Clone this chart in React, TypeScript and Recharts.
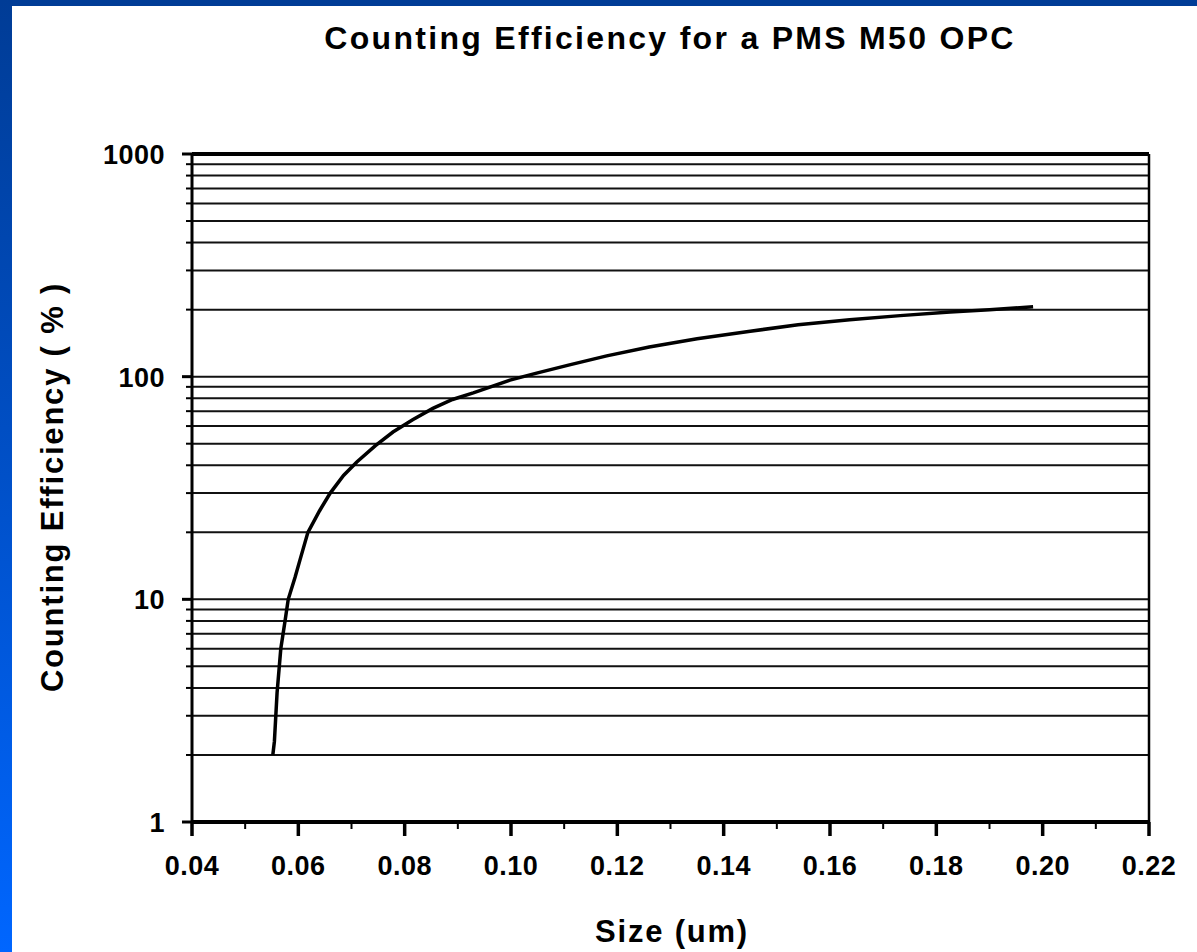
import React from 'react';
import { LineChart, Line, XAxis, YAxis, CartesianGrid, ReferenceLine } from 'recharts';

// Particle size (um)
const sizes = [
  0.0552, 0.0555, 0.0560, 0.0567, 0.0575, 0.0581, 0.0594, 0.0603, 0.0618, 0.0640,
  0.0660, 0.0685, 0.0710, 0.0745, 0.0778, 0.0815, 0.0853, 0.0890, 0.0929, 0.0998,
  0.1050, 0.1110, 0.1180, 0.1260, 0.1350, 0.1450, 0.1540, 0.1637, 0.1732, 0.1826,
  0.1900, 0.1982,
];
// Counting efficiency (%)
const efficiencies = [
  2.0, 2.3, 3.8, 6.0, 8.0, 10, 12.6, 15, 20, 25,
  30, 36, 41.4, 49, 56.4, 64, 72, 79, 84.5, 96.5,
  104, 113, 124, 136, 148, 160, 171, 180, 188, 195,
  200, 206,
];

const xTicks = [0.04, 0.05, 0.06, 0.07, 0.08, 0.09, 0.1, 0.11, 0.12, 0.13, 0.14, 0.15, 0.16, 0.17, 0.18, 0.19, 0.2, 0.21, 0.22];
const yTicks = [
  1, 2, 3, 4, 5, 6, 7, 8, 9,
  10, 20, 30, 40, 50, 60, 70, 80, 90,
  100, 200, 300, 400, 500, 600, 700, 800, 900,
  1000,
];
const yMajorTicks = [1, 10, 100, 1000];

const title = 'Counting Efficiency for a PMS M50 OPC';
const xLabel = 'Size (um)';
const yLabel = 'Counting Efficiency ( % )';

const data = sizes.map((s, i) => ({ size: s, eff: efficiencies[i] }));

const FONT = '"Liberation Sans", Arial, Helvetica, sans-serif';

const XTick = (props: any) => {
  const { x, y, payload } = props;
  const v = payload.value as number;
  const major = Math.round(v * 100) % 2 === 0;
  return (
    <g>
      <line x1={x} x2={x} y1={y} y2={y + (major ? 14 : 7)} stroke="#000" strokeWidth={major ? 3.5 : 2} />
      {major && (
        <text x={x} y={y + 53} textAnchor="middle" fontFamily={FONT} fontWeight="bold" fontSize={27} letterSpacing={0.5} fill="#000">
          {v.toFixed(2)}
        </text>
      )}
    </g>
  );
};

const YTick = (props: any) => {
  const { x, y, payload } = props;
  const v = payload.value as number;
  const major = yMajorTicks.includes(v);
  return (
    <g>
      <line x1={x} x2={x - (major ? 10 : 6)} y1={y} y2={y} stroke="#000" strokeWidth={major ? 3 : 2} />
      {major && (
        <text x={x - 27} y={y + 10} textAnchor="end" fontFamily={FONT} fontWeight="bold" fontSize={27} letterSpacing={0.5} fill="#000">
          {String(v)}
        </text>
      )}
    </g>
  );
};

export default function App() {
  return (
    <div style={{ position: 'absolute', left: 0, top: 0, width: 1197, height: 952, background: '#fff', overflow: 'hidden' }}>
      <div style={{ position: 'absolute', left: 0, top: 0, width: 1197, height: 6, background: '#003c96' }} />
      <div style={{ position: 'absolute', left: 0, top: 0, width: 12, height: 952, background: 'linear-gradient(#003c96, #0050c8 50%, #0066ff)' }} />
      <div style={{ position: 'absolute', left: 0, top: 0 }}>
        <LineChart width={1197} height={952} data={data} margin={{ top: 154, right: 48, bottom: 90, left: 92 }}>
          <CartesianGrid vertical={false} stroke="#111" strokeWidth={2} />
          <XAxis
            dataKey="size"
            type="number"
            domain={[0.04, 0.22]}
            ticks={xTicks}
            interval={0}
            height={40}
            tickSize={0}
            tickMargin={0}
            tickLine={false}
            tick={<XTick />}
            axisLine={{ stroke: '#000', strokeWidth: 4 }}
            allowDataOverflow
          />
          <YAxis
            type="number"
            scale="log"
            domain={[1, 1000]}
            ticks={yTicks}
            interval={0}
            width={100}
            tickSize={0}
            tickMargin={0}
            tickLine={false}
            tick={<YTick />}
            axisLine={{ stroke: '#000', strokeWidth: 3 }}
            allowDataOverflow
          />
          <ReferenceLine y={1000} stroke="#000" strokeWidth={4} />
          <ReferenceLine x={0.22} stroke="#000" strokeWidth={2.5} />
          <Line type="linear" dataKey="eff" stroke="#000" strokeWidth={3.5} dot={false} isAnimationActive={false} />
        </LineChart>
      </div>
      <svg width={1197} height={952} style={{ position: 'absolute', left: 0, top: 0, pointerEvents: 'none' }}>
        <text x={670} y={49} textAnchor="middle" fontFamily={FONT} fontWeight="bold" fontSize={32} letterSpacing={2.3} fill="#000">
          {title}
        </text>
        <text x={672} y={942} textAnchor="middle" fontFamily={FONT} fontWeight="bold" fontSize={31} letterSpacing={1.8} fill="#000">
          {xLabel}
        </text>
        <text x={63} y={487} textAnchor="middle" transform="rotate(-90, 63, 487)" fontFamily={FONT} fontWeight="bold" fontSize={31} letterSpacing={1.8} fill="#000">
          {yLabel}
        </text>
      </svg>
    </div>
  );
}
